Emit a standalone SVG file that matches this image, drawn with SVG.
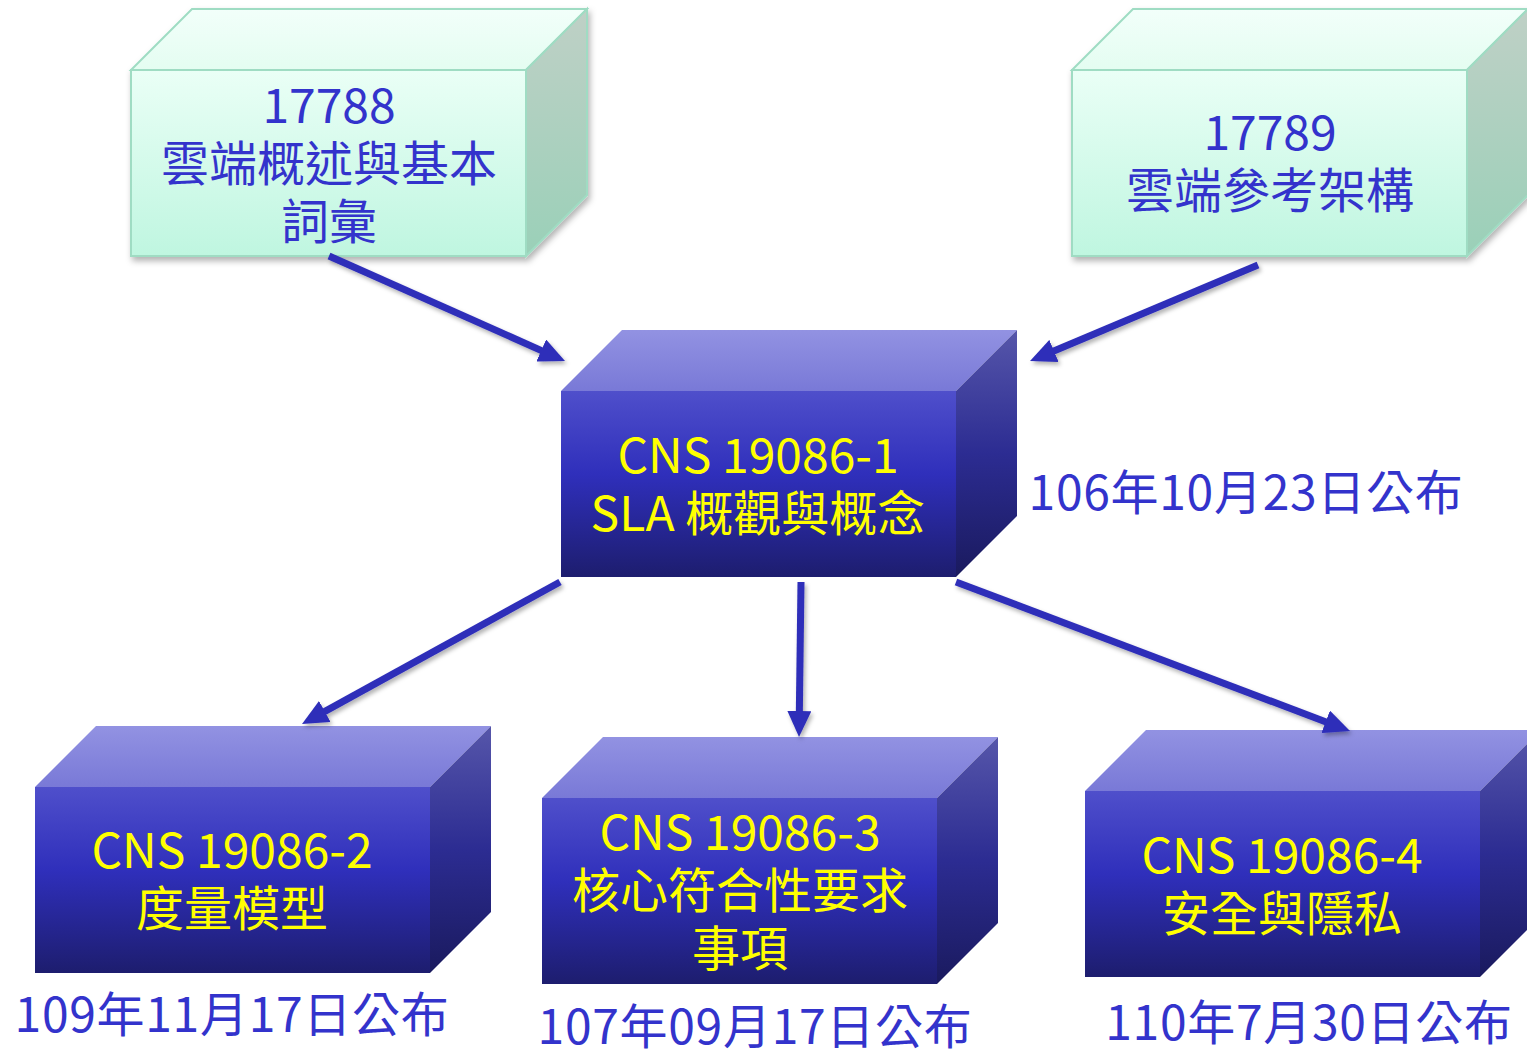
<svg xmlns="http://www.w3.org/2000/svg" width="1527" height="1050" viewBox="0 0 1527 1050">
<defs>
<linearGradient id="gFrontG" x1="0" y1="0" x2="0" y2="1"><stop offset="0" stop-color="#eafff6"/><stop offset="1" stop-color="#bff6e0"/></linearGradient>
<linearGradient id="gTopG" x1="0" y1="0" x2="0" y2="1"><stop offset="0" stop-color="#f2fffa"/><stop offset="1" stop-color="#e4fdf1"/></linearGradient>
<linearGradient id="gSideG" x1="0" y1="0" x2="0" y2="1"><stop offset="0" stop-color="#bfd0c6"/><stop offset="1" stop-color="#9ad0b8"/></linearGradient>
<linearGradient id="gFrontB" x1="0" y1="0" x2="0" y2="1"><stop offset="0" stop-color="#4f4fcb"/><stop offset="0.45" stop-color="#2f2fbb"/><stop offset="1" stop-color="#1d1d6e"/></linearGradient>
<linearGradient id="gTopB" x1="0" y1="0" x2="0" y2="1"><stop offset="0" stop-color="#9292e2"/><stop offset="1" stop-color="#7979d7"/></linearGradient>
<linearGradient id="gSideB" x1="0" y1="0" x2="0" y2="1"><stop offset="0" stop-color="#5656aa"/><stop offset="0.5" stop-color="#2c2c92"/><stop offset="1" stop-color="#1a1a5e"/></linearGradient>
<filter id="shadow" x="-10%" y="-10%" width="130%" height="130%"><feDropShadow dx="2" dy="4" stdDeviation="3" flood-color="#000" flood-opacity="0.3"/></filter>
<filter id="lshadow" x="-10%" y="-10%" width="130%" height="130%"><feDropShadow dx="2" dy="3" stdDeviation="2" flood-color="#000" flood-opacity="0.3"/></filter>
<marker id="arrow" markerUnits="userSpaceOnUse" viewBox="0 0 26 24" markerWidth="26" markerHeight="24" refX="4" refY="12" orient="auto"><path d="M0,0 L26,12 L0,24 z" fill="#2e2eb9"/></marker>
</defs>
<style>
.gf{fill:url(#gFrontG);stroke:#9fdcc3;stroke-width:2}
.gt{fill:url(#gTopG);stroke:#9fdcc3;stroke-width:2}
.gs{fill:url(#gSideG);stroke:#9fdcc3;stroke-width:2}
.bf{fill:url(#gFrontB)}
.bt{fill:url(#gTopB)}
.bs{fill:url(#gSideB)}
.t{font-family:"Noto Sans CJK TC","Noto Sans CJK SC",sans-serif;font-size:48px;text-anchor:middle}
.tb{fill:#3333cc}
.ty{fill:#ffff00}
.d{font-family:"Noto Sans CJK TC","Noto Sans CJK SC",sans-serif;font-size:48px;letter-spacing:0.7px;fill:#3333cc;text-anchor:middle}
.c{stroke:#2e2eb9;stroke-width:7;fill:none;marker-end:url(#arrow)}
</style>
<rect width="1527" height="1050" fill="#ffffff"/>

<g id="node-17788">
<g filter="url(#shadow)">
<rect class="gf" x="131" y="70" width="395" height="186"/>
<polygon class="gt" points="131,70 192,9 587,9 526,70"/>
<polygon class="gs" points="526,70 587,9 587,195 526,256"/>
</g>
<text class="t tb" x="329" y="123">17788</text>
<text class="t tb" x="329" y="181">雲端概述與基本</text>
<text class="t tb" x="329" y="239">詞彙</text>
</g>

<g id="node-17789">
<g filter="url(#shadow)">
<rect class="gf" x="1072" y="70" width="395" height="186"/>
<polygon class="gt" points="1072,70 1133,9 1528,9 1467,70"/>
<polygon class="gs" points="1467,70 1528,9 1528,195 1467,256"/>
</g>
<text class="t tb" x="1270" y="150">17789</text>
<text class="t tb" x="1270" y="208">雲端參考架構</text>
</g>

<g id="node-19086-1">
<rect class="bf" x="561" y="391" width="395" height="186"/>
<polygon class="bt" points="561,391 622,330 1017,330 956,391"/>
<polygon class="bs" points="956,391 1017,330 1017,516 956,577"/>
<text class="t ty" x="758" y="473">CNS 19086-1</text>
<text class="t ty" x="758" y="531">SLA 概觀與概念</text>
<text class="d" x="1246" y="510">106年10月23日公布</text>
</g>

<g id="node-19086-2">
<rect class="bf" x="35" y="787" width="395" height="186"/>
<polygon class="bt" points="35,787 96,726 491,726 430,787"/>
<polygon class="bs" points="430,787 491,726 491,912 430,973"/>
<text class="t ty" x="232" y="868">CNS 19086-2</text>
<text class="t ty" x="232" y="926">度量模型</text>
<text class="d" x="232" y="1032">109年11月17日公布</text>
</g>

<g id="node-19086-3">
<rect class="bf" x="542" y="798" width="395" height="186"/>
<polygon class="bt" points="542,798 603,737 998,737 937,798"/>
<polygon class="bs" points="937,798 998,737 998,923 937,984"/>
<text class="t ty" x="740" y="850">CNS 19086-3</text>
<text class="t ty" x="740" y="908">核心符合性要求</text>
<text class="t ty" x="740" y="966">事項</text>
<text class="d" x="755" y="1044">107年09月17日公布</text>
</g>

<g id="node-19086-4">
<rect class="bf" x="1085" y="791" width="395" height="186"/>
<polygon class="bt" points="1085,791 1146,730 1541,730 1480,791"/>
<polygon class="bs" points="1480,791 1541,730 1541,916 1480,977"/>
<text class="t ty" x="1282" y="873">CNS 19086-4</text>
<text class="t ty" x="1282" y="931">安全與隱私</text>
<text class="d" x="1309" y="1040">110年7月30日公布</text>
</g>

<g id="connectors" filter="url(#lshadow)">
<line class="c" x1="329" y1="256" x2="544.9" y2="352.1"/>
<line class="c" x1="1258" y1="265" x2="1050.3" y2="352.5"/>
<line class="c" x1="560" y1="582" x2="321.3" y2="713.4"/>
<line class="c" x1="801" y1="582" x2="799.3" y2="715"/>
<line class="c" x1="956" y1="582" x2="1329.4" y2="723.2"/>
</g>
</svg>
